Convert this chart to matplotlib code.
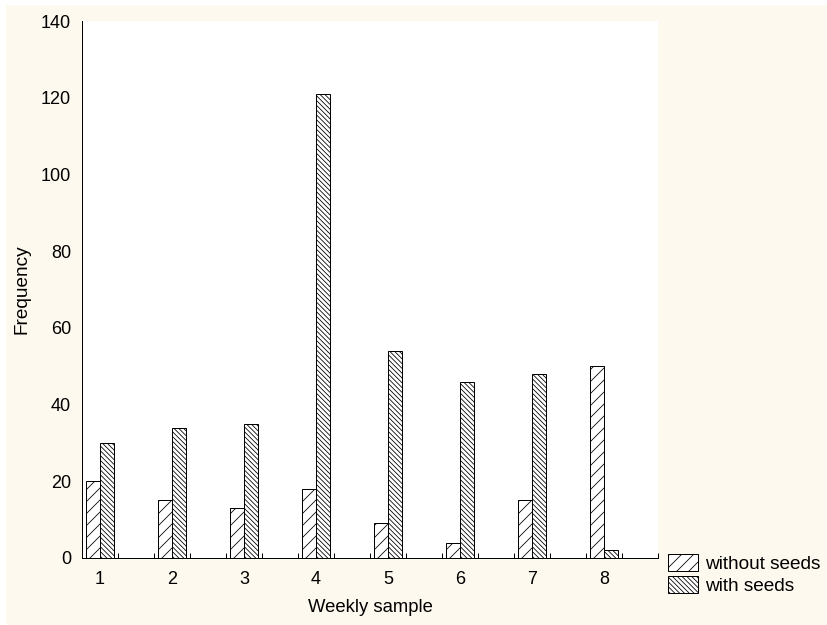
import matplotlib
matplotlib.use("Agg")
import matplotlib.pyplot as plt
import numpy as np
from matplotlib.patches import Rectangle

weeks = [1, 2, 3, 4, 5, 6, 7, 8]
week_labels = ["1", "2", "3", "4", "5", "6", "7", "8"]
without_seeds = [20, 15, 13, 18, 9, 4, 15, 50]
with_seeds = [30, 34, 35, 121, 54, 46, 48, 2]
series_names = ["without seeds", "with seeds"]
y_ticks = [0, 20, 40, 60, 80, 100, 120, 140]

plt.rcParams['font.family'] = ['Liberation Sans', 'DejaVu Sans']
plt.rcParams['hatch.linewidth'] = 0.8

DPI = 72
fig = plt.figure(figsize=(827 / DPI, 625 / DPI), dpi=DPI, facecolor='white')
fig.patches.append(Rectangle((6 / 827, 0), 1, 620 / 625, transform=fig.transFigure,
                             facecolor='#FEF9EE', edgecolor='none', zorder=-10))

ax = fig.add_axes([82 / 827, (625 - 558) / 625, (658 - 82) / 827, (558 - 21) / 625])
ax.set_facecolor('white')

x = np.array(weeks, dtype=float)
w = 0.2
b1 = ax.bar(x - w / 2, without_seeds, width=w, facecolor='white', edgecolor='black',
            linewidth=1.0, hatch='//', label=series_names[0])
b2 = ax.bar(x + w / 2, with_seeds, width=w, facecolor='white', edgecolor='black',
            linewidth=1.0, hatch='\\' * 5, label=series_names[1])

ax.set_xlim(0.75, 8.75)
ax.set_ylim(0, 140)
ax.set_xticks(x)
ax.set_xticklabels(week_labels)
ax.set_yticks(y_ticks)
ax.set_xticks(np.concatenate([x - 0.25, x + 0.25, [8.75]]), minor=True)
ax.tick_params(axis='x', which='major', length=0, pad=13, labelsize=18)
ax.tick_params(axis='x', which='minor', direction='in', length=5, width=1)
ax.tick_params(axis='y', length=0, pad=11, labelsize=18)

for s in ['top', 'right']:
    ax.spines[s].set_visible(False)
for s in ['left', 'bottom']:
    ax.spines[s].set_linewidth(1.0)

ax.set_xlabel('Weekly sample', fontsize=18.5, labelpad=11)
ax.set_ylabel('Frequency', fontsize=19, labelpad=10)

fig.legend(handles=[b1, b2], labels=series_names, loc='upper left',
           bbox_to_anchor=(662 / 827, 1 - 548 / 625), frameon=False,
           fontsize=19, handlelength=1.6, handleheight=1.0,
           handletextpad=0.35, labelspacing=0.15, borderaxespad=0, borderpad=0.3)

fig.savefig('out.png', dpi=DPI, facecolor=fig.get_facecolor())
